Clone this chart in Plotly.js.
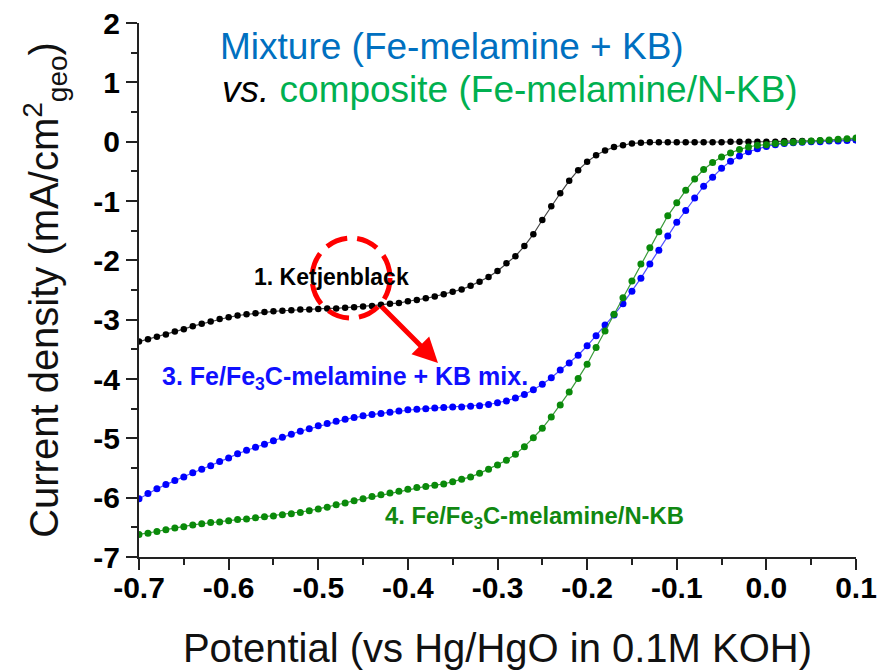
<!DOCTYPE html>
<html>
<head>
<meta charset="utf-8">
<script src="https://cdn.plot.ly/plotly-3.0.1.min.js"></script>
<style>html,body{margin:0;padding:0;background:#fff;}#chart{width:891px;height:670px;}</style>
</head>
<body>
<div id="chart"></div>
<script>
// Potential (V vs Hg/HgO)
const potential = [-0.70,-0.69,-0.68,-0.67,-0.66,-0.65,-0.64,-0.63,-0.62,-0.61,
  -0.60,-0.59,-0.58,-0.57,-0.56,-0.55,-0.54,-0.53,-0.52,-0.51,
  -0.50,-0.49,-0.48,-0.47,-0.46,-0.45,-0.44,-0.43,-0.42,-0.41,
  -0.40,-0.39,-0.38,-0.37,-0.36,-0.35,-0.34,-0.33,-0.32,-0.31,
  -0.30,-0.29,-0.28,-0.27,-0.26,-0.25,-0.24,-0.23,-0.22,-0.21,
  -0.20,-0.19,-0.18,-0.17,-0.16,-0.15,-0.14,-0.13,-0.12,-0.11,
  -0.10,-0.09,-0.08,-0.07,-0.06,-0.05,-0.04,-0.03,-0.02,-0.01,
  0.00,0.01,0.02,0.03,0.04,0.05,0.06,0.07,0.08,0.09,0.10];

// 1. Ketjenblack
const ketjenblack = [-3.37,-3.33,-3.29,-3.25,-3.20,-3.16,-3.11,-3.07,-3.03,-2.99,
  -2.96,-2.93,-2.91,-2.89,-2.87,-2.86,-2.85,-2.84,-2.83,-2.83,
  -2.82,-2.81,-2.81,-2.80,-2.79,-2.78,-2.77,-2.75,-2.73,-2.72,
  -2.69,-2.67,-2.64,-2.61,-2.57,-2.53,-2.49,-2.43,-2.36,-2.28,
  -2.18,-2.05,-1.93,-1.76,-1.56,-1.32,-1.09,-0.87,-0.66,-0.48,
  -0.34,-0.23,-0.15,-0.09,-0.06,-0.03,-0.02,-0.01,-0.01,-0.01,
  -0.01,-0.01,-0.01,-0.01,-0.01,-0.01,0.00,0.00,0.00,0.00,
  0.00,0.00,0.01,0.01,0.01,0.01,0.02,0.02,0.02,0.03,0.03];

// 3. Fe/Fe3C-melamine + KB mix.
const mixture = [-6.02,-5.93,-5.85,-5.78,-5.71,-5.65,-5.58,-5.52,-5.46,-5.39,
  -5.33,-5.26,-5.20,-5.15,-5.10,-5.04,-4.98,-4.93,-4.88,-4.84,
  -4.79,-4.75,-4.71,-4.68,-4.65,-4.62,-4.60,-4.58,-4.56,-4.54,
  -4.52,-4.51,-4.50,-4.49,-4.48,-4.47,-4.47,-4.46,-4.45,-4.43,
  -4.40,-4.37,-4.32,-4.26,-4.18,-4.09,-3.98,-3.85,-3.73,-3.60,
  -3.44,-3.27,-3.09,-2.92,-2.73,-2.52,-2.30,-2.06,-1.83,-1.59,
  -1.36,-1.16,-0.95,-0.75,-0.60,-0.45,-0.33,-0.24,-0.17,-0.12,
  -0.08,-0.05,-0.03,-0.02,-0.01,0.00,0.00,0.01,0.01,0.02,0.03];

// 4. Fe/Fe3C-melamine/N-KB
const composite = [-6.62,-6.60,-6.57,-6.54,-6.51,-6.49,-6.46,-6.44,-6.42,-6.41,
  -6.39,-6.37,-6.36,-6.34,-6.32,-6.31,-6.29,-6.27,-6.25,-6.22,
  -6.19,-6.16,-6.12,-6.09,-6.05,-6.02,-5.98,-5.95,-5.92,-5.89,
  -5.86,-5.83,-5.81,-5.79,-5.77,-5.73,-5.69,-5.65,-5.59,-5.52,
  -5.45,-5.37,-5.27,-5.14,-4.99,-4.83,-4.64,-4.44,-4.22,-3.99,
  -3.75,-3.47,-3.19,-2.91,-2.63,-2.35,-2.06,-1.79,-1.52,-1.25,
  -1.03,-0.82,-0.63,-0.47,-0.35,-0.26,-0.19,-0.13,-0.09,-0.06,
  -0.05,-0.03,-0.02,-0.01,0.00,0.01,0.02,0.03,0.04,0.05,0.06];

const xTickVals = [-0.7,-0.6,-0.5,-0.4,-0.3,-0.2,-0.1,0.0,0.1];
const xTickText = ["-0.7","-0.6","-0.5","-0.4","-0.3","-0.2","-0.1","0.0","0.1"];
const yTickVals = [2,1,0,-1,-2,-3,-4,-5,-6,-7];
const yTickText = ["2","1","0","-1","-2","-3","-4","-5","-6","-7"];

const F = "Arial, 'Liberation Sans', sans-serif";
const W = 891, H = 670, L = 139, R = 35, T = 23, B = 113;
const pw = W - L - R, ph = H - T - B;
const px = v => (v - L) / pw;
const py = v => (H - B - v) / ph;

function series(y, mc, lc, ms) {
  return {x: potential, y: y, type: 'scatter', mode: 'lines+markers',
    line: {color: lc, width: 1.2}, marker: {color: mc, size: ms}, showlegend: false, hoverinfo: 'skip'};
}
const data = [
  series(ketjenblack, '#000000', '#444444', 6.5),
  series(mixture, '#0000ff', '#5050ff', 7),
  series(composite, '#0a8a0a', '#3a9a3a', 7)
];

const axisCommon = {
  showline: true, linecolor: '#222', linewidth: 2, mirror: false,
  showgrid: false, zeroline: false,
  ticks: 'outside', ticklen: 11, tickwidth: 2, tickcolor: '#222',
  tickfont: {family: F, size: 30, color: '#000', weight: 700}
};

const layout = {
  width: W, height: H,
  margin: {l: L, r: R, t: T, b: B},
  paper_bgcolor: '#fff', plot_bgcolor: '#fff',
  xaxis: Object.assign({}, axisCommon, {
    range: [-0.7, 0.1], tickmode: 'array', tickvals: xTickVals, ticktext: xTickText,
    ticklabelstandoff: -8,
    minor: {ticks: 'outside', ticklen: 6, tickwidth: 2, tickcolor: '#222', dtick: 0.05, tick0: 0},
    title: {text: 'Potential (vs Hg/HgO in 0.1M KOH)', font: {family: F, size: 40, color: '#111'}, standoff: 34}
  }),
  yaxis: Object.assign({}, axisCommon, {
    range: [-7, 2], tickmode: 'array', tickvals: yTickVals, ticktext: yTickText,
    minor: {ticks: 'outside', ticklen: 6, tickwidth: 2, tickcolor: '#222', dtick: 0.5, tick0: 0},
    title: {text: 'Current density (mA/cm<sup>2</sup><sub>geo</sub>)', font: {family: F, size: 40, color: '#111'}, standoff: 22}
  }),
  shapes: [{
    type: 'circle', xref: 'paper', yref: 'paper', layer: 'above',
    x0: px(312), x1: px(390), y0: py(318), y1: py(238),
    line: {color: '#ff0000', width: 5, dash: '22px,10px'}
  }],
  annotations: [
    {xref: 'paper', yref: 'paper', x: px(218), y: py(46), xanchor: 'left', yanchor: 'middle', showarrow: false,
     text: 'Mixture (Fe-melamine + KB)', font: {family: F, size: 37, color: '#0070c0'}},
    {xref: 'paper', yref: 'paper', x: px(220), y: py(90), xanchor: 'left', yanchor: 'middle', showarrow: false,
     text: "<i>vs.</i> <span style='color:#00b050'>composite (Fe-melamine/N-KB)</span>", font: {family: F, size: 37, color: '#000'}},
    {xref: 'paper', yref: 'paper', x: px(331), y: py(277), xanchor: 'center', yanchor: 'middle', showarrow: false,
     text: '<b>1. Ketjenblack</b>', font: {family: F, size: 23, color: '#000'}},
    {xref: 'paper', yref: 'paper', x: px(160), y: py(378), xanchor: 'left', yanchor: 'middle', showarrow: false,
     text: '<b>3. Fe/Fe<sub>3</sub>C-melamine + KB mix.</b>', font: {family: F, size: 25, color: '#1010ff'}},
    {xref: 'paper', yref: 'paper', x: px(383), y: py(517), xanchor: 'left', yanchor: 'middle', showarrow: false,
     text: '<b>4. Fe/Fe<sub>3</sub>C-melamine/N-KB</b>', font: {family: F, size: 23.8, color: '#118811'}},
    {xref: 'paper', yref: 'paper', x: px(438), y: py(363), axref: 'pixel', ayref: 'pixel', ax: -58, ay: -58,
     text: '', showarrow: true, arrowhead: 2, arrowsize: 1, arrowwidth: 5, arrowcolor: '#ff0000', standoff: 0}
  ]
};

Plotly.newPlot('chart', data, layout, {displayModeBar: false, staticPlot: true});
</script>
</body>
</html>
